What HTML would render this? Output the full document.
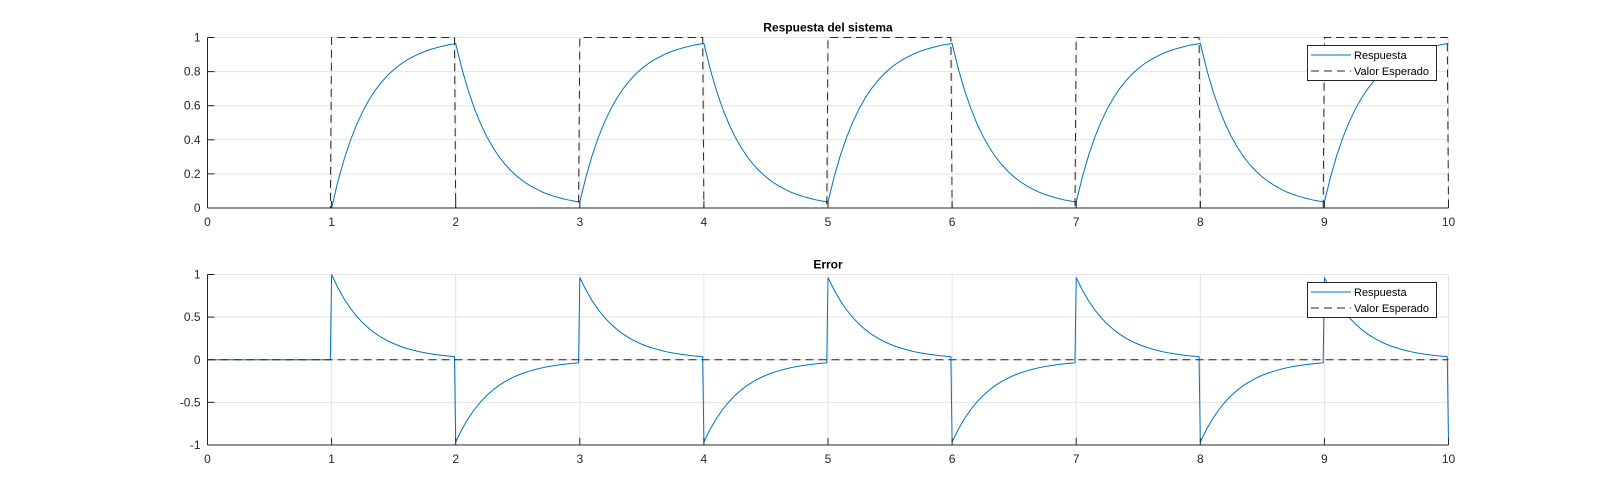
<!DOCTYPE html>
<html><head><meta charset="utf-8"><style>
body{margin:0;background:#fff;}
svg{display:block;font-family:"Liberation Sans",Arial,sans-serif;}
</style></head><body>
<svg id="c" width="1600" height="500" viewBox="0 0 1600 500"></svg>
<script>
const times=[0,0.05,0.1,0.15,0.2,0.25,0.3,0.35,0.4,0.45,0.5,0.55,0.6,0.65,0.7,0.75,0.8,0.85,0.9,0.95,0.99];
const riseFromZero=[0,0.154,0.283,0.393,0.487,0.565,0.632,0.689,0.736,0.777,0.811,0.840,0.865,0.885,0.903,0.918,0.931,0.941,0.950,0.958,0.963];
const decayVals=[0.965,0.817,0.691,0.585,0.495,0.419,0.355,0.300,0.254,0.215,0.182,0.154,0.131,0.111,0.093,0.079,0.067,0.057,0.048,0.041,0.036];
const riseVals=[0.035,0.183,0.309,0.415,0.505,0.581,0.645,0.700,0.746,0.785,0.818,0.846,0.869,0.889,0.907,0.921,0.933,0.943,0.952,0.959,0.964];
const errRiseFirst=[1,0.846,0.717,0.607,0.513,0.435,0.368,0.311,0.264,0.223,0.189,0.160,0.135,0.115,0.097,0.082,0.069,0.059,0.050,0.042,0.037];
const errDecay=[-0.965,-0.817,-0.691,-0.585,-0.495,-0.419,-0.355,-0.300,-0.254,-0.215,-0.182,-0.154,-0.131,-0.111,-0.093,-0.079,-0.067,-0.057,-0.048,-0.041,-0.036];
const errRise=[0.965,0.817,0.691,0.585,0.495,0.419,0.355,0.300,0.254,0.215,0.182,0.154,0.131,0.111,0.093,0.079,0.067,0.057,0.048,0.041,0.036];
const finalResp=0.965, finalErr=-0.965, finalRef=0;
const xTicks=[0,1,2,3,4,5,6,7,8,9,10];
const yTicksTop=[0,0.2,0.4,0.6,0.8,1];
const yTickLabelsTop=["0","0.2","0.4","0.6","0.8","1"];
const yTicksBot=[-1,-0.5,0,0.5,1];
const yTickLabelsBot=["-1","-0.5","0","0.5","1"];

const T=[],R=[],E=[],REF=[];
for(let k=0;k<10;k++){
  for(let i=0;i<times.length;i++){
    T.push(k+times[i]);
    REF.push(k%2);
    if(k===0){R.push(0);E.push(0);}
    else if(k===1){R.push(riseFromZero[i]);E.push(errRiseFirst[i]);}
    else if(k%2===0){R.push(decayVals[i]);E.push(errDecay[i]);}
    else {R.push(riseVals[i]);E.push(errRise[i]);}
  }
}
T.push(10);R.push(finalResp);E.push(finalErr);REF.push(finalRef);

const svg=document.getElementById('c');
const NS='http://www.w3.org/2000/svg';
function el(tag,attrs,parent){const e=document.createElementNS(NS,tag);for(const k in attrs)e.setAttribute(k,attrs[k]);(parent||svg).appendChild(e);return e;}
const X0=207.5,X1=1448.5;
function xs(v){return X0+(X1-X0)*v/10;}

function panel(name,top,bot,ymin,ymax,yt,ytl,title,ys1,ys2,legTop){
  const g=el('g',{});
  
  
  const ys=v=>bot-(bot-top)*(v-ymin)/(ymax-ymin);
  xTicks.forEach(t=>{const l=el('line',{x1:xs(t),x2:xs(t),y1:top,y2:bot,stroke:'#e3e3e3','stroke-width':1},g);});
  yt.forEach(t=>{const l=el('line',{x1:X0,x2:X1,y1:ys(t),y2:ys(t),stroke:'#e3e3e3','stroke-width':1},g);});
  const p1=el('polyline',{points:T.map((t,i)=>xs(t)+','+ys(ys1[i])).join(' '),fill:'none',stroke:'#0072bd','stroke-width':1},g);
  
  const p2=el('polyline',{points:T.map((t,i)=>xs(t)+','+ys(ys2[i])).join(' '),fill:'none',stroke:'#262626','stroke-width':1,'stroke-dasharray':'8,5'},g);
  
  const xa=el('line',{x1:X0,x2:X1,y1:bot,y2:bot,stroke:'#262626'},g);
  
  const ya=el('line',{x1:X0,x2:X0,y1:top,y2:bot,stroke:'#262626'},g);
  
  xTicks.forEach(t=>{
    el('line',{x1:xs(t),x2:xs(t),y1:bot,y2:bot-7,stroke:'#262626'},g);
    const tx=el('text',{x:xs(t),y:bot+18,'text-anchor':'middle','font-size':12,fill:'#262626'},g);tx.textContent=t;
    
  });
  yt.forEach((t,i)=>{
    el('line',{x1:X0,x2:X0+7,y1:ys(t),y2:ys(t),stroke:'#262626'},g);
    const tx=el('text',{x:X0-7,y:ys(t)+4,'text-anchor':'end','font-size':12,fill:'#262626'},g);tx.textContent=ytl[i];
    
  });
  const ti=el('text',{x:(X0+X1)/2,y:top-6,'text-anchor':'middle','font-size':12,'font-weight':'bold',fill:'#000'},g);ti.textContent=title;
  
  const lg=el('g',{},g);
  
  el('rect',{x:1307.5,y:legTop,width:129,height:35,fill:'#fff',stroke:'#262626','stroke-width':1},lg);
  el('line',{x1:1311,x2:1351,y1:legTop+9.5,y2:legTop+9.5,stroke:'#0072bd'},lg);
  el('line',{x1:1311,x2:1351,y1:legTop+25.5,y2:legTop+25.5,stroke:'#262626','stroke-dasharray':'8,5'},lg);
  const a=el('text',{x:1354,y:legTop+13.5,'font-size':11,fill:'#000'},lg);a.textContent='Respuesta';
  
  const c=el('text',{x:1354,y:legTop+29.5,'font-size':11,fill:'#000'},lg);c.textContent='Valor Esperado';
  
}
panel('response-chart',37.5,208,0,1,yTicksTop,yTickLabelsTop,'Respuesta del sistema',R,REF,45.5);
const zeros=T.map(()=>0);
panel('error-chart',274.5,445,-1,1,yTicksBot,yTickLabelsBot,'Error',E,zeros,282.5);
</script>
</body></html>
